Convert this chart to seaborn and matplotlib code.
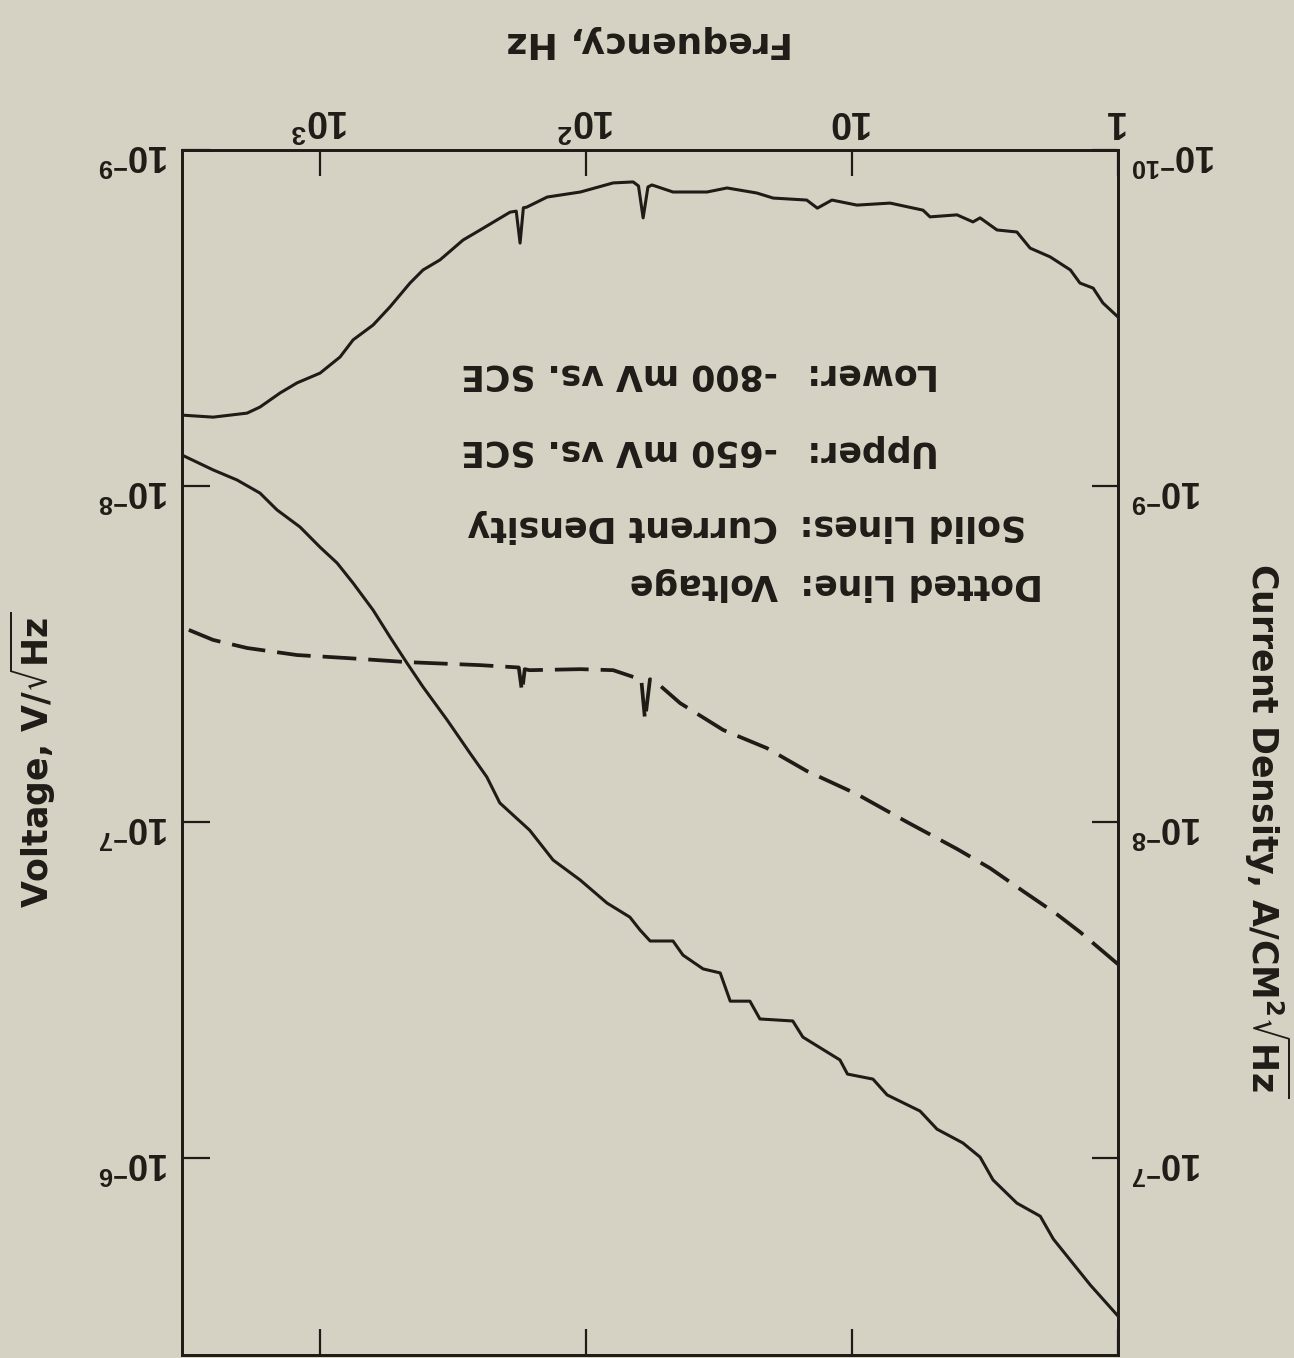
import numpy as np
import pandas as pd
import matplotlib
matplotlib.use("Agg")
import matplotlib.pyplot as plt
import seaborn as sns
from matplotlib.ticker import FixedLocator, FixedFormatter, NullLocator

# Values read off the scanned (upside-down) figure
# upper trace on the picture: current density, A/cm2/sqrt(Hz), right axis
cd_top_freq = [1.0, 1.14, 1.24, 1.39, 1.51, 1.80, 2.14, 2.40, 2.85, 3.30, 3.51, 4.03, 5.09, 5.41, 7.19,
               9.58, 11.9, 13.5, 14.8, 19.8, 22.8, 29.5, 35.1, 47.1, 56.5, 58.5, 61.0, 63.5, 66.5, 79.1,
               105, 140, 167, 172, 177, 183, 193, 216, 250, 290, 354, 410, 459, 546, 632,
               751, 841, 1000, 1220, 1413, 1682, 1881, 2524, 3300]
cd_top_log = [-9.503, -9.545, -9.589, -9.604, -9.643, -9.682, -9.708, -9.756, -9.762, -9.798, -9.786, -9.807, -9.801, -9.821, -9.842,
              -9.836, -9.851, -9.827, -9.851, -9.857, -9.872, -9.887, -9.875, -9.875, -9.896, -9.89, -9.798, -9.893, -9.905, -9.902,
              -9.875, -9.860, -9.830, -9.828, -9.723, -9.818, -9.815, -9.792, -9.762, -9.732, -9.673, -9.643, -9.604, -9.533, -9.479,
              -9.435, -9.384, -9.336, -9.307, -9.277, -9.235, -9.217, -9.205, -9.211]

# lower trace on the picture: current density, right axis
cd_bot_freq = [1.0, 1.27, 1.75, 1.96, 2.40, 2.95, 3.30, 3.83, 4.79, 5.55, 7.38, 8.34, 10.4, 11.1, 15.3,
               16.7, 22.2, 24.2, 28.7, 31.3, 36.3, 43.2, 47.1, 57.4, 62.7, 68.4, 83.4, 105, 133, 163,
               211, 236, 273, 333, 410, 471, 546, 632, 751, 863, 1000, 1189, 1452, 1682, 2052, 2524, 3300]
cd_bot_log = [-6.530, -6.622, -6.759, -6.827, -6.866, -6.935, -7.003, -7.045, -7.086, -7.140, -7.188, -7.235, -7.250, -7.292, -7.360,
              -7.408, -7.414, -7.467, -7.467, -7.551, -7.563, -7.604, -7.646, -7.646, -7.679, -7.717, -7.759, -7.827, -7.887, -7.976,
              -8.057, -8.134, -8.205, -8.304, -8.402, -8.473, -8.551, -8.631, -8.711, -8.771, -8.818, -8.878, -8.929, -8.979, -9.018,
              -9.048, -9.092]

# dashed trace: voltage, V/sqrt(Hz), left axis
volt_freq = [1.0, 1.39, 1.70, 2.28, 3.03, 4.03, 6.21, 9.58, 14.8, 20.9, 30.5, 44.3, 54.1, 57.5, 60.0,
             62.0, 66.5, 79.1, 105, 163, 170, 174, 179, 188, 250, 471, 791, 1220, 1881, 2524, 3300]
volt_log = [-6.577, -6.673, -6.726, -6.795, -6.863, -6.920, -7.000, -7.083, -7.152, -7.220, -7.274, -7.354, -7.414, -7.425, -7.304,
            -7.425, -7.432, -7.452, -7.455, -7.452, -7.455, -7.387, -7.460, -7.461, -7.467, -7.476, -7.488, -7.497, -7.518, -7.542,
            -7.580]

freq_ticks = [1, 10, 100, 1000]
freq_labels = ["$1$", "$10$", "$10^2$", "$10^3$"]
volt_ticks = [1e-9, 1e-8, 1e-7, 1e-6]
volt_labels = ["$10^{-9}$", "$10^{-8}$", "$10^{-7}$", "$10^{-6}$"]
cd_ticks = [1e-10, 1e-9, 1e-8, 1e-7]
cd_labels = ["$10^{-10}$", "$10^{-9}$", "$10^{-8}$", "$10^{-7}$"]

key_names = ["Lower:", "Upper:", "Solid Lines:", "Dotted Line:"]
key_values = ["-800 mV vs. SCE", "-650 mV vs. SCE", "Current Density", "Voltage"]

top_df = pd.DataFrame({"f": cd_top_freq, "v": 10 ** np.array(cd_top_log)})
bot_df = pd.DataFrame({"f": cd_bot_freq, "v": 10 ** np.array(cd_bot_log)})
volt_df = pd.DataFrame({"f": volt_freq, "v": 10 ** np.array(volt_log)})

bg = "#d6d2c3"
ink = "#1f1b17"
W, H = 1294, 1358

sns.set_style("ticks")
plt.rcParams["font.family"] = ["Liberation Sans", "DejaVu Sans"]
plt.rcParams["font.weight"] = "bold"
plt.rcParams["mathtext.fontset"] = "custom"
plt.rcParams["mathtext.rm"] = "Liberation Sans"
plt.rcParams["mathtext.bf"] = "Liberation Sans:bold"
plt.rcParams["mathtext.default"] = "bf"
plt.rcParams["axes.edgecolor"] = ink
plt.rcParams["axes.linewidth"] = 2.0

fig = plt.figure(figsize=(W / 100, H / 100), dpi=100, facecolor=bg)
ax = fig.add_axes([182 / W, 1 - 1355 / H, (1118 - 182) / W, (1355 - 150) / H])
ax.set_facecolor(bg)
ax2 = ax.twinx()

ax.set_xscale("log")
ax.set_yscale("log")
ax2.set_yscale("log")

sns.lineplot(data=volt_df, x="f", y="v", ax=ax, color=ink, linewidth=2.7, estimator=None)
ax.lines[-1].set_dashes((9, 3.2))
sns.lineplot(data=top_df, x="f", y="v", ax=ax2, color=ink, linewidth=2.2, estimator=None)
sns.lineplot(data=bot_df, x="f", y="v", ax=ax2, color=ink, linewidth=2.2, estimator=None)

ax.set_xlim(10 ** 3.519, 1)
ax.set_ylim(10 ** -5.414, 1e-9)
ax2.set_ylim(10 ** -6.414, 1e-10)

ax.xaxis.set_major_locator(FixedLocator(freq_ticks))
ax.xaxis.set_major_formatter(FixedFormatter(freq_labels))
ax.xaxis.set_minor_locator(NullLocator())
ax.yaxis.set_major_locator(FixedLocator(volt_ticks))
ax.yaxis.set_major_formatter(FixedFormatter(volt_labels))
ax.yaxis.set_minor_locator(NullLocator())
ax2.yaxis.set_major_locator(FixedLocator(cd_ticks))
ax2.yaxis.set_major_formatter(FixedFormatter(cd_labels))
ax2.yaxis.set_minor_locator(NullLocator())

ax.tick_params(axis="x", which="major", top=True, bottom=True, labeltop=True, labelbottom=False,
               direction="in", length=19, width=1.6, color=ink, labelcolor=ink,
               labelsize=27, labelrotation=180, pad=8)
ax.tick_params(axis="y", which="major", left=True, right=False, direction="in", length=20,
               width=1.6, color=ink, labelcolor=ink, labelsize=26, labelrotation=180, pad=9)
ax2.tick_params(axis="y", which="major", right=True, direction="in", length=19,
                width=1.6, color=ink, labelcolor=ink, labelsize=26, labelrotation=180, pad=10)

ax.set_xlabel("")
ax.set_ylabel("")
ax2.set_ylabel("")

for s in list(ax.spines.values()) + list(ax2.spines.values()):
    s.set_color(ink)

# axis titles, placed as on the scan (wide bold lettering)
title_font = dict(family="DejaVu Sans", fontweight="bold", color=ink, math_fontfamily="dejavusans")
fig.text(650 / W, 1 - 42 / H, "Frequency, Hz", rotation=180, ha="center", va="center",
         fontsize=26, **title_font)
fig.text(33 / W, 1 - 760 / H, r"Voltage, V/$\sqrt{Hz}$", rotation=90, ha="center", va="center",
         fontsize=25, **title_font)
fig.text(1267 / W, 1 - 830 / H, r"Current Density, A/CM$^2\sqrt{Hz}$", rotation=270,
         ha="center", va="center", fontsize=25, **title_font)

# upside-down key: names and values in two columns
for name, val, yc in zip(key_names, key_values, [374, 451, 526, 584]):
    fig.text(800 / W, 1 - yc / H, name, rotation=180, ha="left", va="center",
             fontsize=25, family="DejaVu Sans", fontweight="bold", color=ink)
    fig.text(778 / W, 1 - yc / H, val, rotation=180, ha="right", va="center",
             fontsize=25, family="DejaVu Sans", fontweight="bold", color=ink)

fig.savefig("out.png", dpi=100, facecolor=bg)
